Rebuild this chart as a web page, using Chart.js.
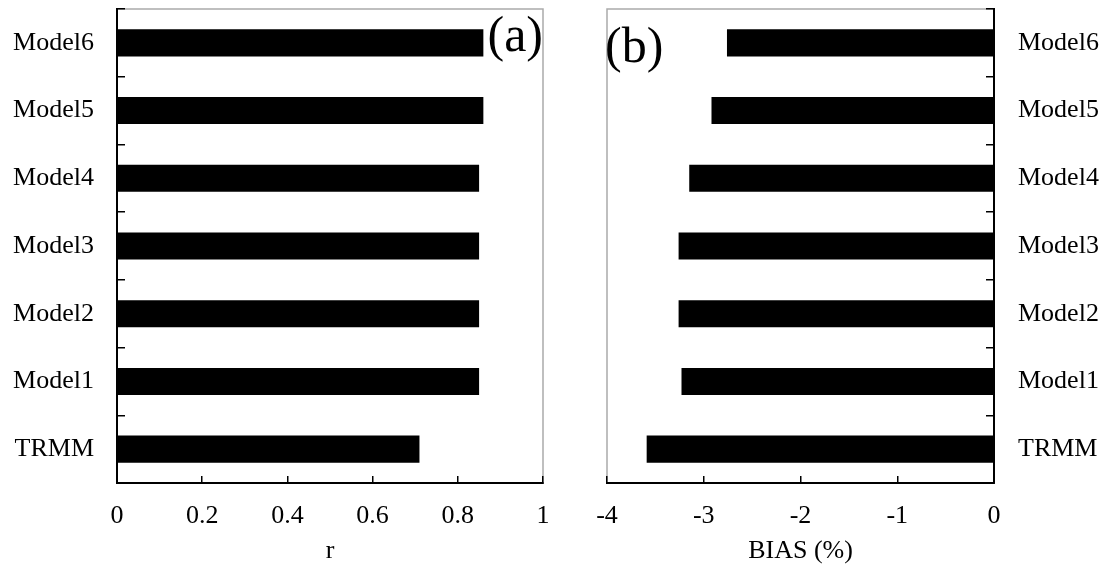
<!DOCTYPE html>
<html>
<head>
<meta charset="utf-8">
<script src="https://cdn.jsdelivr.net/npm/chart.js@4/dist/chart.umd.min.js"></script>
<style>
  html, body { margin: 0; padding: 0; background: #fff; }
  #wrap { position: relative; width: 1109px; height: 570px; }
  #chart-r { position: absolute; left: 0; top: 0; }
  #chart-bias { position: absolute; left: 560px; top: 0; }
</style>
</head>
<body>
<div id="wrap">
  <canvas id="chart-r" width="560" height="570"></canvas>
  <canvas id="chart-bias" width="549" height="570"></canvas>
</div>
<script>
const categories = ['Model6', 'Model5', 'Model4', 'Model3', 'Model2', 'Model1', 'TRMM'];
const rValues = [0.86, 0.86, 0.85, 0.85, 0.85, 0.85, 0.71];
const biasValues = [-2.76, -2.92, -3.15, -3.26, -3.26, -3.23, -3.59];

const FONT = { family: '"Liberation Serif", "Times New Roman", serif', size: 26 };

// light grey frame around the plot area, drawn under the black axes
const frame = {
  id: 'frame',
  beforeDraw(chart) {
    const { ctx, chartArea: a } = chart;
    ctx.save();
    ctx.strokeStyle = '#aaaaaa';
    ctx.lineWidth = 1.5;
    ctx.strokeRect(a.left, a.top, a.right - a.left, a.bottom - a.top);
    ctx.restore();
  }
};

// panel letter, (a) / (b)
function panelLabel(text, side, baseline) {
  return {
    id: 'panel' + text,
    afterDraw(chart) {
      const { ctx, chartArea: a } = chart;
      ctx.save();
      ctx.font = '50px ' + FONT.family;
      ctx.fillStyle = '#000';
      ctx.textBaseline = 'alphabetic';
      if (side === 'right') {
        ctx.textAlign = 'right';
        ctx.fillText(text, a.right, baseline);
      } else {
        ctx.textAlign = 'left';
        ctx.fillText(text, a.left - 2, baseline);
      }
      ctx.restore();
    }
  };
}

function noPad(scale) {
  scale.paddingTop = 0;
  scale.paddingBottom = 0;
  scale.paddingLeft = 0;
  scale.paddingRight = 0;
}

function makeChart(id, values, opts) {
  const ctx = document.getElementById(id).getContext('2d');
  return new Chart(ctx, {
    type: 'bar',
    data: {
      labels: categories,
      datasets: [{
        data: values,
        backgroundColor: '#000',
        borderWidth: 0,
        barPercentage: 0.4,
        categoryPercentage: 1.0
      }]
    },
    options: {
      indexAxis: 'y',
      responsive: false,
      animation: false,
      layout: { padding: opts.padding },
      plugins: {
        legend: { display: false },
        tooltip: { enabled: false }
      },
      scales: {
        x: {
          min: opts.min,
          max: opts.max,
          ticks: {
            stepSize: opts.step, color: '#000', font: FONT, padding: 25,
            callback: v => String(Number(v.toFixed(2)))
          },
          grid: { drawOnChartArea: false, color: '#000', lineWidth: 1.5, tickLength: -7 },
          border: { color: '#000', width: 2 },
          title: { display: true, text: opts.xTitle, color: '#000', font: FONT, padding: { top: 0, bottom: 3 } },
          afterFit(scale) { scale.height = 87; noPad(scale); }
        },
        y: {
          position: opts.yPos,
          ticks: { color: '#000', font: FONT, padding: opts.yPad },
          grid: { drawOnChartArea: false, color: '#000', lineWidth: 1.5, tickLength: -8 },
          border: { color: '#000', width: 2 },
          afterFit(scale) { scale.width = opts.yWidth; noPad(scale); }
        }
      }
    },
    plugins: [frame, opts.label]
  });
}

makeChart('chart-r', rValues, {
  min: 0, max: 1, step: 0.2, xTitle: 'r',
  yPos: 'left', yWidth: 117, yPad: 31,
  padding: { top: 9, right: 17, left: 0, bottom: 0 },
  label: panelLabel('(a)', 'right', 51)
});

makeChart('chart-bias', biasValues, {
  min: -4, max: 0, step: 1, xTitle: 'BIAS (%)',
  yPos: 'right', yWidth: 115, yPad: 32,
  padding: { top: 9, right: 0, left: 47, bottom: 0 },
  label: panelLabel('(b)', 'left', 62)
});
</script>
</body>
</html>
